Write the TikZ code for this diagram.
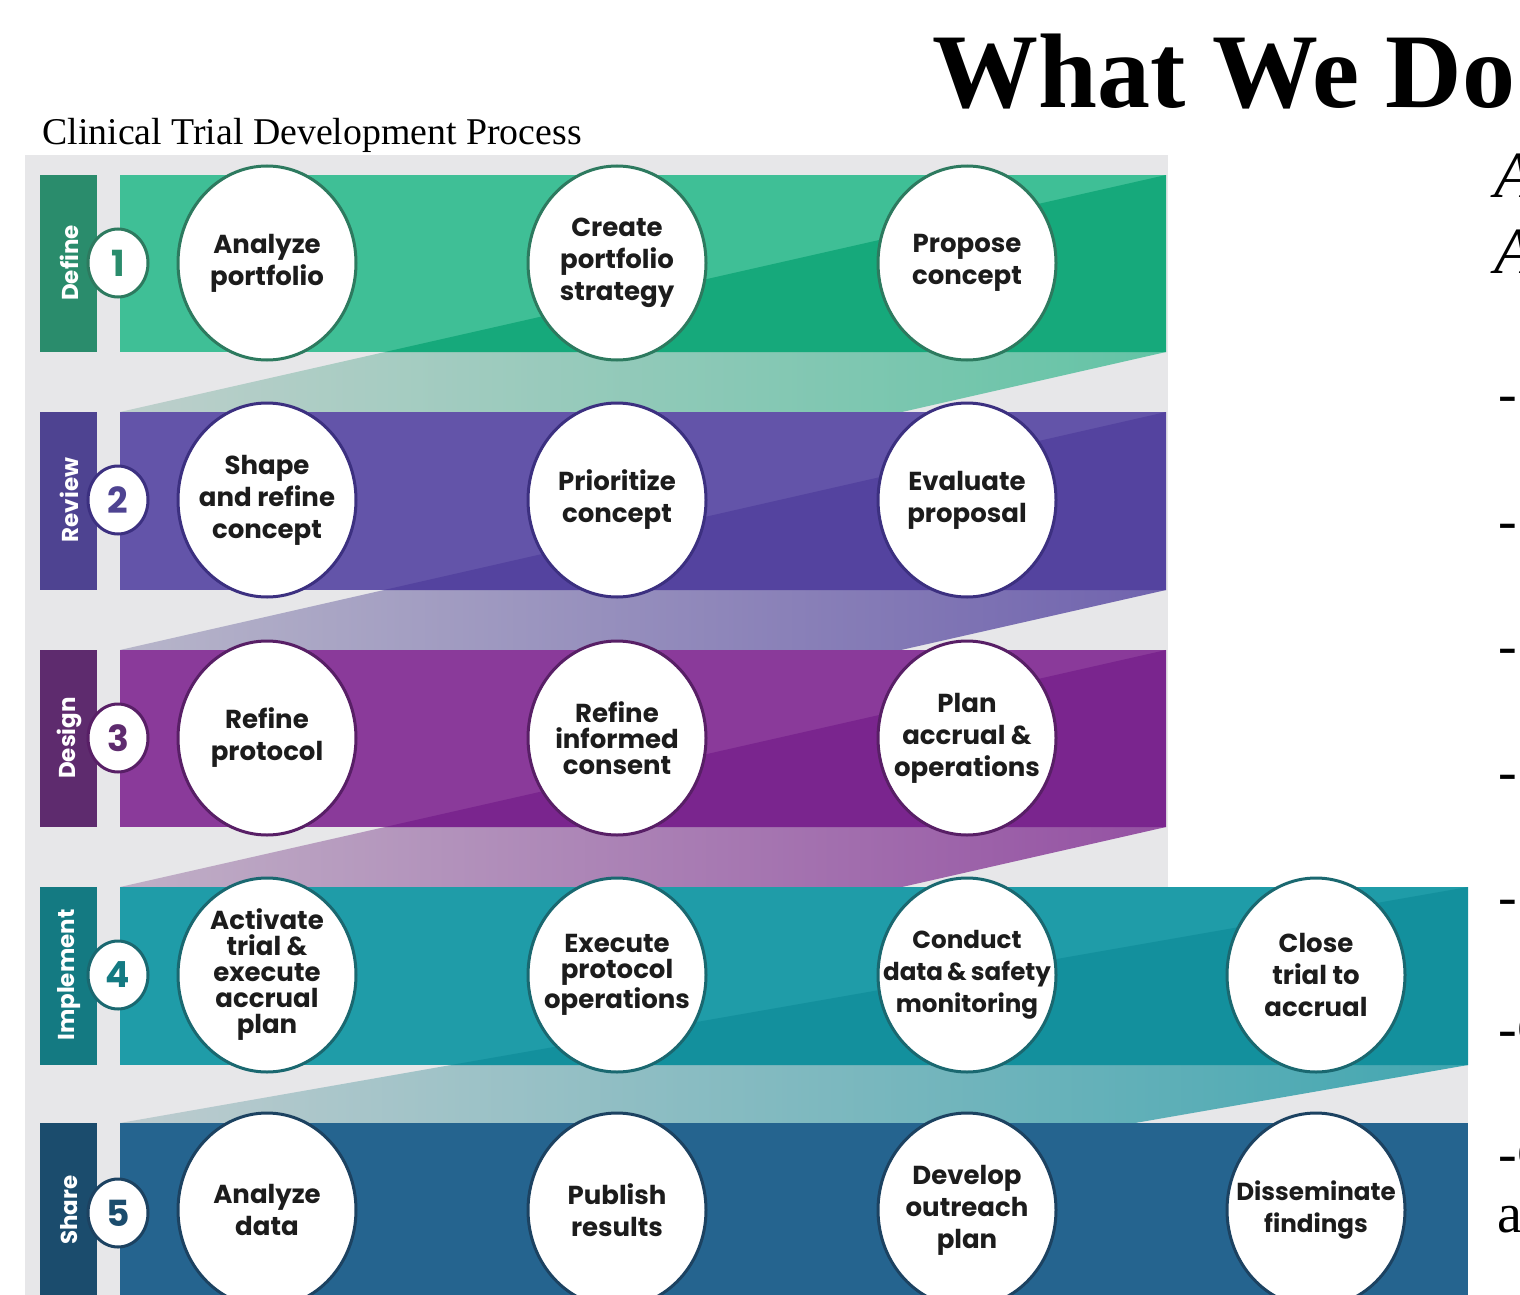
\documentclass[tikz,border=0pt]{standalone}
\usepackage{fontspec}
\setmainfont{Liberation Serif}
\newfontfamily\circfont{Poppins}
\usetikzlibrary{shapes.geometric}
\definecolor{bggrey}{HTML}{E7E7E9}
\definecolor{midgrey}{HTML}{CFD1D3}
\definecolor{txt}{HTML}{1C1C1C}
% green
\definecolor{gA}{HTML}{3FBF96}\definecolor{gD}{HTML}{16A97B}\definecolor{gL}{HTML}{2A8C6C}\definecolor{gB}{HTML}{2D7A5F}
% blue-purple
\definecolor{pA}{HTML}{6354A9}\definecolor{pD}{HTML}{54439F}\definecolor{pL}{HTML}{4E4391}\definecolor{pB}{HTML}{3C3080}
% purple
\definecolor{mA}{HTML}{8A3A9A}\definecolor{mD}{HTML}{7A258E}\definecolor{mL}{HTML}{5E2B6E}\definecolor{mB}{HTML}{581F66}
% teal
\definecolor{tA}{HTML}{1F9CA8}\definecolor{tD}{HTML}{13909D}\definecolor{tL}{HTML}{147A82}\definecolor{tB}{HTML}{1A6870}
% blue
\definecolor{bA}{HTML}{25648F}\definecolor{bD}{HTML}{215C86}\definecolor{bL}{HTML}{1B4C6D}\definecolor{bB}{HTML}{1C4261}
\tikzset{
  stepc/.style={ellipse, fill=white, line width=1.5pt, minimum width=89pt, minimum height=97pt,
    inner ysep=0pt, inner xsep=-18pt, align=center, text=txt, font=\circfont\bfseries\fontsize{13}{16}\selectfont},
  compact/.style={inner ysep=-6pt, font=\circfont\bfseries\fontsize{13}{13}\selectfont},
  tight/.style={font=\circfont\bfseries\fontsize{12.3}{16}\selectfont},
  numc/.style={ellipse, fill=white, line width=1.5pt, minimum width=30pt, minimum height=34pt,
    inner sep=0pt, font=\circfont\bfseries\fontsize{18}{18}\selectfont},
  labtext/.style={rotate=90, text=white, font=\circfont\bfseries\fontsize{11.5}{12}\selectfont},
  slidetext/.style={anchor=base west, inner sep=0pt, text=black, font=\fontsize{28}{28}\selectfont},
}
\begin{document}
\begin{tikzpicture}[x=0.5pt,y=-0.5pt]
\useasboundingbox (0,0) rectangle (1520,1295);
\clip (0,0) rectangle (1520,1295);
\fill[white] (0,0) rectangle (1520,1295);
% background panel
\fill[bggrey] (25,155) rectangle (1168,1295);
\fill[bggrey] (1168,1065) rectangle (1468,1123);
% fold ribbons in gaps
\shade[left color=gA!12!midgrey, right color=gA!75!midgrey] (120,412) -- (385,352) -- (1166,352) -- (902,412) -- cycle;
\shade[left color=pA!22!midgrey, right color=pA!88!midgrey] (120,650) -- (384,590) -- (1166,590) -- (901,650) -- cycle;
\shade[left color=mA!22!midgrey, right color=mA!85!midgrey] (120,887) -- (385,827) -- (1166,827) -- (902,887) -- cycle;
\shade[left color=tA!10!midgrey, right color=tA!80!midgrey] (120,1123) -- (451,1065) -- (1468,1065) -- (1135,1123) -- cycle;
% bands
\fill[gA] (120,175) rectangle (1166,352);
\fill[gD] (385,352) -- (1166,175) -- (1166,352) -- cycle;
\fill[pA] (120,412) rectangle (1166,590);
\fill[pD] (384,590) -- (1166,412) -- (1166,590) -- cycle;
\fill[mA] (120,650) rectangle (1166,827);
\fill[mD] (385,827) -- (1166,650) -- (1166,827) -- cycle;
\fill[tA] (120,887) rectangle (1468,1065);
\fill[tD] (451,1065) -- (1468,887) -- (1468,1065) -- cycle;
\fill[bA] (120,1123) rectangle (1468,1300);
% label bars
\fill[gL] (40,175) rectangle (97,352);
\fill[pL] (40,412) rectangle (97,590);
\fill[mL] (40,650) rectangle (97,827);
\fill[tL] (40,887) rectangle (97,1065);
\fill[bL] (40,1123) rectangle (97,1300);
\node[labtext] (lab1) at (69,263) {Define};
\node[labtext] (lab2) at (69,500) {Review};
\node[labtext] (lab3) at (69,738) {Design};
\node[labtext] (lab4) at (69,975) {Implement};
\node[labtext] (lab5) at (69,1210) {Share};
% number circles
\node[numc, draw=gB, text=gL] (n1) at (118,263) {1};
\node[numc, draw=pB, text=pL] (n2) at (118,500) {2};
\node[numc, draw=mB, text=mL] (n3) at (118,738) {3};
\node[numc, draw=tB, text=tL] (n4) at (118,975) {4};
\node[numc, draw=bB, text=bL] (n5) at (118,1213) {5};
% step circles
\node[stepc, draw=gB] (s11) at (267,263) {Analyze\\portfolio};
\node[stepc, draw=gB] (s12) at (617,263) {Create\\portfolio\\strategy};
\node[stepc, draw=gB] (s13) at (967,263) {Propose\\concept};
\node[stepc, draw=pB] (s21) at (267,500) {Shape\\and refine\\concept};
\node[stepc, draw=pB] (s22) at (617,500) {Prioritize\\concept};
\node[stepc, draw=pB] (s23) at (967,500) {Evaluate\\proposal};
\node[stepc, draw=mB] (s31) at (267,738) {Refine\\protocol};
\node[stepc, draw=mB, compact] (s32) at (617,738) {Refine\\informed\\consent};
\node[stepc, draw=mB] (s33) at (967,738) {Plan\\accrual \&\\operations};
\node[stepc, draw=tB, compact] (s41) at (267,975) {Activate\\trial \&\\execute\\accrual\\plan};
\node[stepc, draw=tB, compact] (s42) at (617,975) {Execute\\protocol\\operations};
\node[stepc, draw=tB, tight] (s43) at (967,975) {Conduct\\data\,\&\,safety\\monitoring};
\node[stepc, draw=tB] (s44) at (1316,975) {Close\\trial to\\accrual};
\node[stepc, draw=bB] (s51) at (267,1210) {Analyze\\data};
\node[stepc, draw=bB] (s52) at (617,1210) {Publish\\results};
\node[stepc, draw=bB] (s53) at (967,1210) {Develop\\outreach\\plan};
\node[stepc, draw=bB, tight] (s54) at (1316,1210) {Disseminate\\findings};
% titles
\node[anchor=base west, inner sep=0pt, font=\bfseries\fontsize{53}{53}\selectfont] (title) at (932,108) {What We Do};
\node[anchor=base west, inner sep=0pt, font=\fontsize{18.9}{18.9}\selectfont] (sub) at (42,144) {Clinical Trial Development Process};
% slide text cut by the right edge of the picture
\node[anchor=base west, inner sep=0pt, font=\itshape\fontsize{33}{33}\selectfont] (r1) at (1494,197) {A};
\node[anchor=base west, inner sep=0pt, font=\itshape\fontsize{33}{33}\selectfont] (r2) at (1494,273) {A};
\node[slidetext] (d1) at (1498,412) {-};
\node[slidetext] (d2) at (1498,539) {-};
\node[slidetext] (d3) at (1498,664) {-};
\node[slidetext] (d4) at (1498,790) {-};
\node[slidetext] (d5) at (1498,915) {-};
\node[slidetext] (d6) at (1498,1047) {-C};
\node[slidetext] (d7) at (1498,1172) {-C};
\node[slidetext] (d8) at (1497,1232) {a};
\end{tikzpicture}
\end{document}
